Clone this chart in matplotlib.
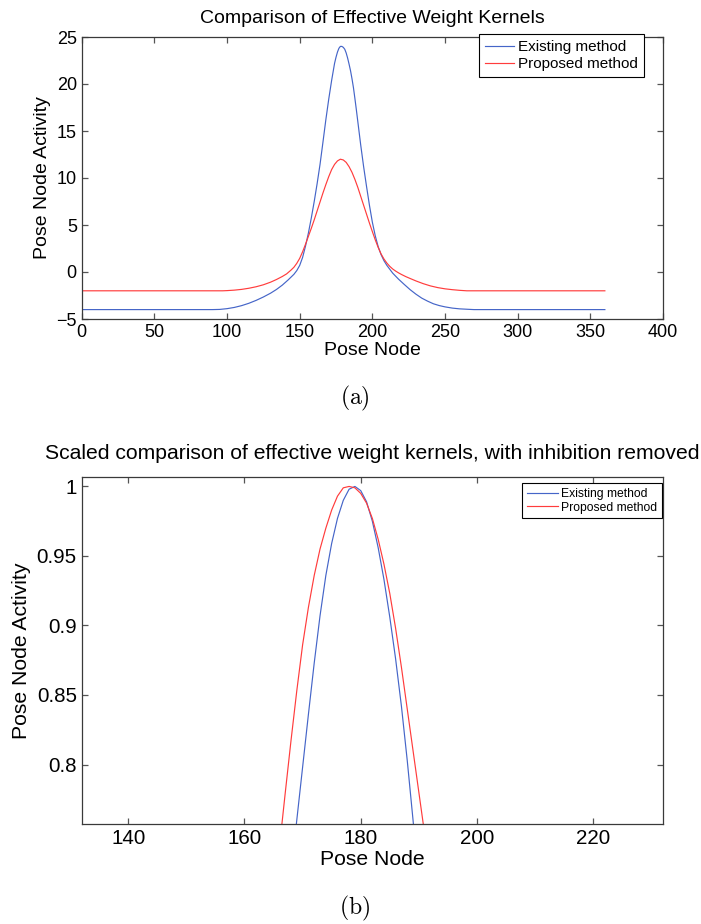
import matplotlib
matplotlib.use("Agg")
import matplotlib.pyplot as plt

plt.rcParams['font.family'] = ['Liberation Sans', 'DejaVu Sans']
plt.rcParams['mathtext.fontset'] = 'cm'

# ---------------- Data ----------------
# Panel (a): full kernels
existing_x = [0, 90, 95, 100, 105, 110, 115, 120, 125, 130, 134, 138, 142, 146,
              148, 150, 152, 154, 156, 158, 160, 162, 164, 166, 168, 170, 172,
              174, 175, 176, 177, 178, 179, 180, 181, 182, 183, 184, 185, 186,
              187, 188, 189, 190, 192, 194, 196, 198, 200, 202, 204, 206, 208,
              210, 214, 218, 222, 226, 230, 234, 238, 242, 246, 250, 255, 260,
              266, 270, 360]
existing_y = [-4.0, -4.0, -3.98, -3.9, -3.77, -3.58, -3.33, -3.02, -2.66, -2.25,
              -1.86, -1.4, -0.85, -0.25, 0.15, 0.7, 1.55, 2.75, 4.15, 5.75, 7.5,
              9.4, 11.45, 13.8, 16.2, 18.4, 20.4, 22.2, 22.85, 23.4, 23.8, 24.0,
              24.0, 23.9, 23.7, 23.3, 22.75, 22.1, 21.4, 20.55, 19.6, 18.45,
              17.25, 16.0, 13.5, 11.2, 9.1, 7.1, 5.3, 3.85, 2.7, 1.85, 1.2, 0.7,
              -0.12, -0.76, -1.33, -1.88, -2.36, -2.78, -3.1, -3.38, -3.57,
              -3.71, -3.84, -3.92, -3.97, -4.0, -4.0]

proposed_x = [0, 97, 100, 105, 110, 115, 120, 125, 130, 134, 138, 141, 144, 146,
              148, 150, 152, 154, 156, 158, 160, 162, 164, 166, 168, 170, 172,
              174, 176, 178, 180, 182, 184, 186, 188, 190, 192, 194, 196, 198,
              200, 202, 204, 206, 208, 210, 212, 214, 216, 218, 220, 223, 226,
              230, 235, 240, 245, 250, 255, 260, 265, 360]
proposed_y = [-2.0, -2.0, -1.98, -1.93, -1.85, -1.73, -1.57, -1.36, -1.08, -0.8,
              -0.48, -0.2, 0.2, 0.5, 0.92, 1.45, 2.15, 2.95, 3.8, 4.65, 5.55,
              6.5, 7.45, 8.4, 9.3, 10.15, 10.9, 11.45, 11.82, 12.0, 11.92, 11.66,
              11.2, 10.6, 9.85, 9.0, 8.05, 7.1, 6.15, 5.2, 4.3, 3.42, 2.62, 1.92,
              1.38, 0.95, 0.6, 0.32, 0.1, -0.09, -0.26, -0.49, -0.69, -0.95,
              -1.24, -1.48, -1.66, -1.79, -1.88, -1.95, -2.0, -2.0]

# Panel (b): scaled kernels, inhibition removed
scaled_existing_x = list(range(168, 191))
scaled_existing_y = [0.722, 0.760, 0.798, 0.836, 0.873, 0.907, 0.936, 0.959,
                     0.977, 0.990, 0.998, 1.000, 0.997, 0.989, 0.975, 0.956,
                     0.933, 0.906, 0.876, 0.842, 0.803, 0.760, 0.715]
scaled_proposed_x = list(range(165, 193))
scaled_proposed_y = [0.700, 0.740, 0.779, 0.817, 0.853, 0.886, 0.913, 0.936,
                     0.955, 0.970, 0.983, 0.993, 0.999, 1.000, 0.999, 0.995,
                     0.988, 0.977, 0.962, 0.944, 0.923, 0.898, 0.870, 0.840,
                     0.810, 0.780, 0.750, 0.720]

labels = ['Existing method', 'Proposed method']
title_a = 'Comparison of Effective Weight Kernels'
title_b = 'Scaled comparison of effective weight kernels, with inhibition removed'
xlabel = 'Pose Node'
ylabel = 'Pose Node Activity'
xticks_a = [0, 50, 100, 150, 200, 250, 300, 350, 400]
yticks_a = [-5, 0, 5, 10, 15, 20, 25]
xticks_b = [140, 160, 180, 200, 220]
yticks_b = [0.8, 0.85, 0.9, 0.95, 1.0]
yticklabels_b = ['0.8', '0.85', '0.9', '0.95', '1']

BLUE = '#4565c8'
RED = '#ff3c3c'
SPINE = '#3a3a3a'

W, H = 701, 924
fig = plt.figure(figsize=(W / 100, H / 100), dpi=100)


def frac_axes(left, top, right, bottom):
    return fig.add_axes([left / W, 1 - bottom / H, (right - left) / W, (bottom - top) / H])


def style(ax, size):
    for s in ax.spines.values():
        s.set_color(SPINE)
        s.set_linewidth(0.9)
    ax.tick_params(direction='in', top=True, right=True, length=4.5, width=0.9,
                   color='#555555', labelsize=size, pad=3.5)


# ---- Panel (a) ----
ax1 = frac_axes(81.7, 37, 663, 319)
ax1.plot(existing_x, existing_y, color=BLUE, lw=0.85, label=labels[0])
ax1.plot(proposed_x, proposed_y, color=RED, lw=0.85, label=labels[1])
ax1.set_xlim(0, 400)
ax1.set_ylim(-5, 25)
ax1.set_xticks(xticks_a)
ax1.set_yticks(yticks_a)
style(ax1, 13)
ax1.set_title(title_a, fontsize=14, pad=10)
ax1.set_xlabel(xlabel, fontsize=14, labelpad=1)
ax1.set_ylabel(ylabel, fontsize=14, labelpad=4)
leg1 = ax1.legend(loc='upper right', bbox_to_anchor=(644 / W, 1 - 34 / H),
                  bbox_transform=fig.transFigure, borderaxespad=0, fontsize=11,
                  handlelength=1.9, handletextpad=0.25, borderpad=0.4,
                  labelspacing=0.2, fancybox=False, framealpha=1)
leg1.get_frame().set_edgecolor('black')
leg1.get_frame().set_linewidth(0.8)

# ---- Panel (b) ----
ax2 = frac_axes(81.7, 476.7, 663, 824.3)
ax2.plot(scaled_existing_x, scaled_existing_y, color=BLUE, lw=0.85, label=labels[0])
ax2.plot(scaled_proposed_x, scaled_proposed_y, color=RED, lw=0.85, label=labels[1])
ax2.set_xlim(132, 232)
ax2.set_ylim(0.757, 1.007)
ax2.set_xticks(xticks_b)
ax2.set_yticks(yticks_b)
ax2.set_yticklabels(yticklabels_b)
style(ax2, 14.8)
ax2.set_title(title_b, fontsize=15.2, pad=13)
ax2.set_xlabel(xlabel, fontsize=15.2, labelpad=1)
ax2.set_ylabel(ylabel, fontsize=15.2, labelpad=4)
leg2 = ax2.legend(loc='upper right', bbox_to_anchor=(662 / W, 1 - 483 / H),
                  bbox_transform=fig.transFigure, borderaxespad=0, fontsize=8.7,
                  handlelength=2.6, handletextpad=0.25, borderpad=0.4,
                  labelspacing=0.15, fancybox=False, framealpha=1)
leg2.get_frame().set_edgecolor('black')
leg2.get_frame().set_linewidth(0.8)

fig.text(355 / W, 1 - 398.5 / H, r'$\mathrm{(a)}$', ha='center', va='center', fontsize=17)
fig.text(355 / W, 1 - 908.5 / H, r'$\mathrm{(b)}$', ha='center', va='center', fontsize=17)

fig.savefig('out.png', dpi=100, facecolor='white')
